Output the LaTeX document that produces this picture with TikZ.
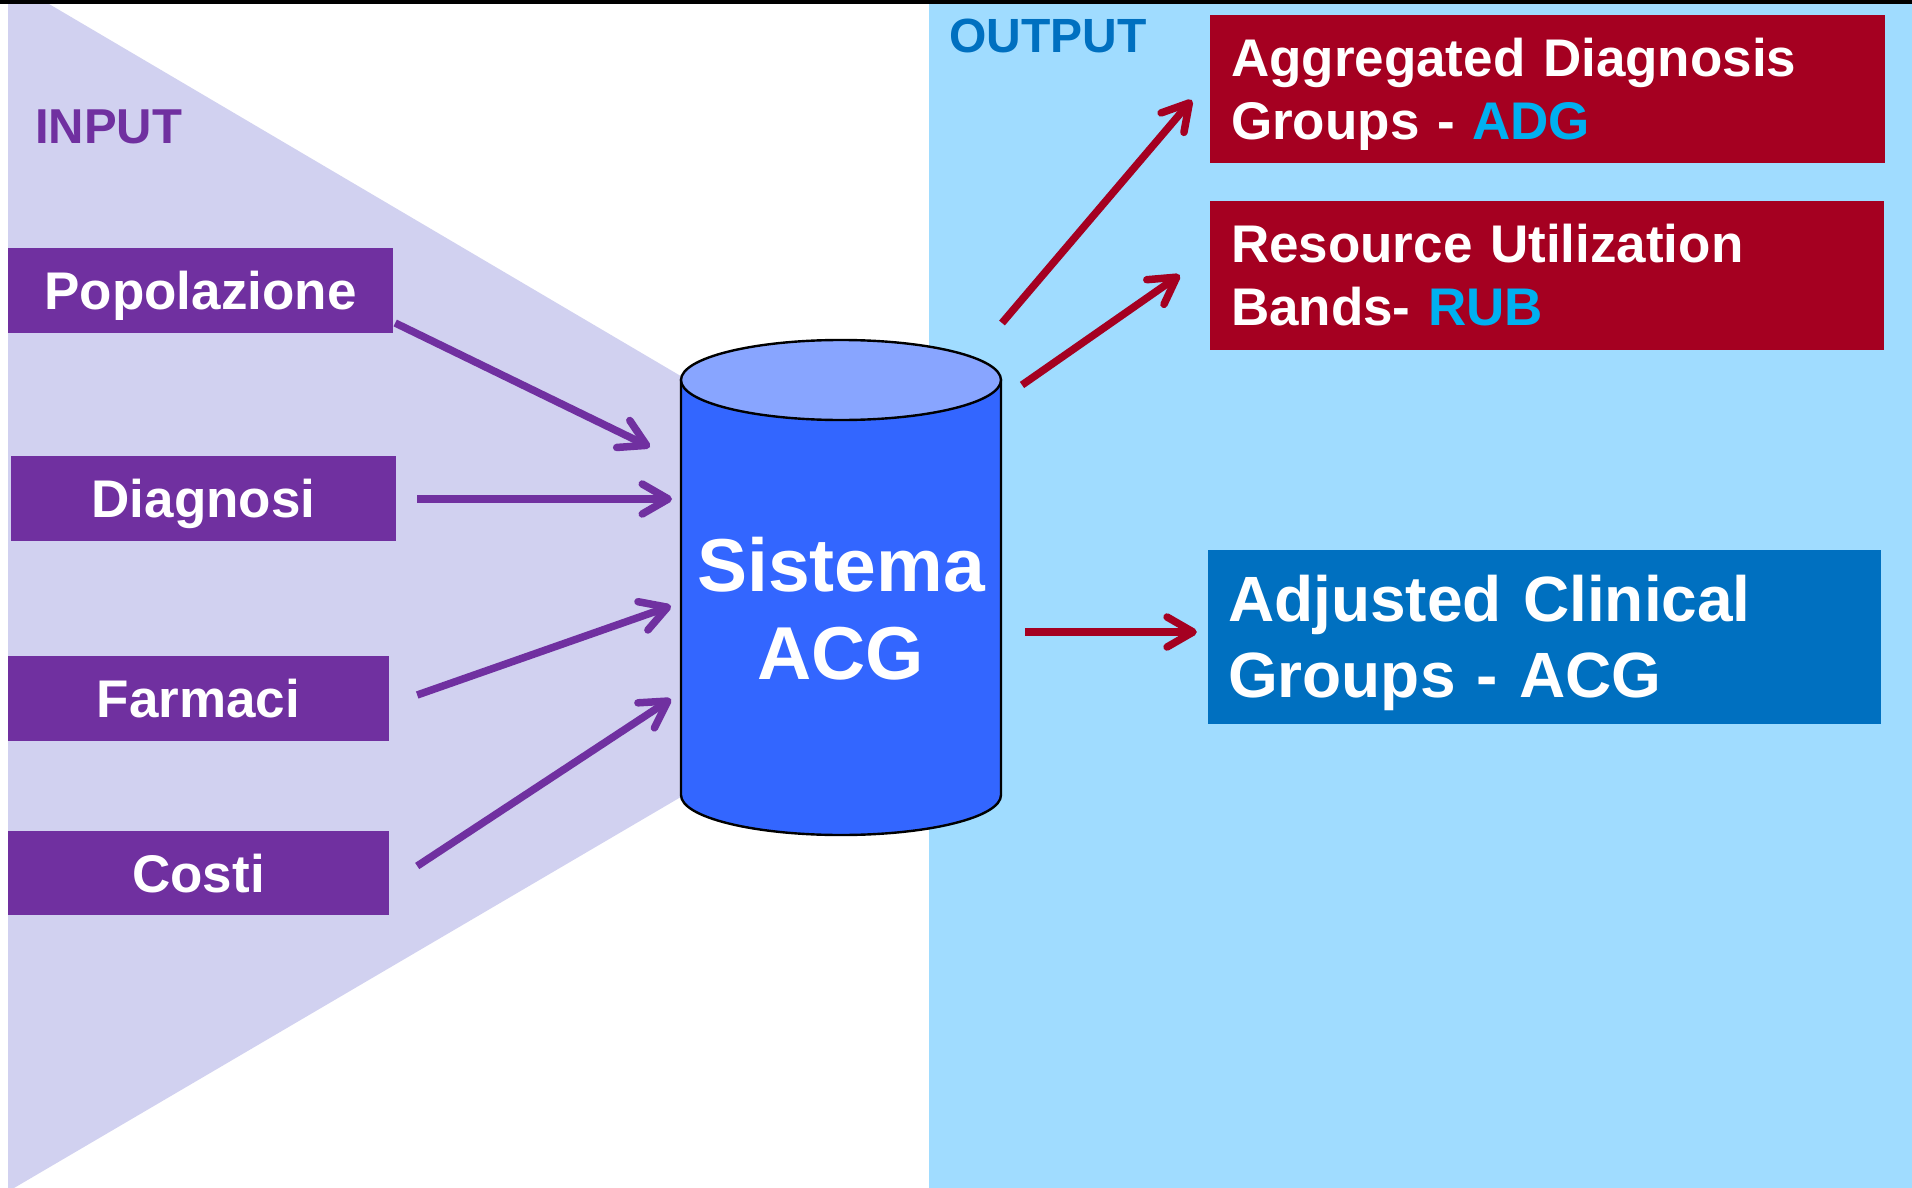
\documentclass[tikz,border=0pt]{standalone}
\usepackage{fontspec}
\setmainfont{Liberation Sans}
\usetikzlibrary{arrows.meta}

\definecolor{inpurple}{HTML}{7030A0}
\definecolor{lavender}{HTML}{D1D1F0}
\definecolor{skyblue}{HTML}{A0DCFF}
\definecolor{outred}{HTML}{A50021}
\definecolor{outblue}{HTML}{0070C0}
\definecolor{acgcyan}{HTML}{00B0F0}
\definecolor{cylbody}{HTML}{3366FF}
\definecolor{cyltop}{HTML}{88A5FF}

\begin{document}
\begin{tikzpicture}[x=1pt,y=-1pt,
  inbox/.style={fill=inpurple, text=white, inner sep=0pt, minimum height=85pt,
    font=\fontsize{53}{63}\selectfont\bfseries, text height=38pt, text depth=0pt},
  outbox/.style={text=white, inner xsep=21pt, inner ysep=0pt, align=left,
    font=\fontsize{53}{63}\selectfont\bfseries},
  inarr/.style={draw=inpurple, line width=7.5pt, -{Straight Barb[length=26pt,width=30pt,round]}},
  outarr/.style={draw=outred, line width=7.5pt, -{Straight Barb[length=26pt,width=30pt,round]}}]
  \useasboundingbox (0,0) rectangle (1912,1188);

  % Background
  \fill[white] (0,0) rectangle (1912,1188);
  \fill[lavender] (8,4) -- (49,4) -- (1039,587) -- (14,1188) -- (8,1188) -- cycle;
  \fill[skyblue] (929,4) rectangle (1912,1188);
  \fill[black] (0,0) rectangle (1912,4);

  % Titles
  \node[anchor=base west, inner sep=0pt, text=inpurple,
    font=\fontsize{49}{52}\selectfont\bfseries] (intitle) at (35,143) {INPUT};
  \node[anchor=base west, inner sep=0pt, text=outblue,
    font=\fontsize{48}{50}\selectfont\bfseries] (outtitle) at (949,53) {OUTPUT};

  % Input boxes
  \node[inbox, minimum width=385pt] (pop) at (200.5,290.5) {Popolazione};
  \node[inbox, minimum width=385pt] (dia) at (203.5,498.5) {Diagnosi};
  \node[inbox, minimum width=381pt] (far) at (198.5,698.5) {Farmaci};
  \node[inbox, minimum width=381pt, minimum height=84pt] (cos) at (198.5,873) {Costi};

  % Cylinder
  \filldraw[fill=cylbody, draw=black, line width=2.4pt]
    (681,380) -- (681,795) arc[start angle=180, end angle=360, x radius=160pt, y radius=40pt]
    -- (1001,380) -- cycle;
  \filldraw[fill=cyltop, draw=black, line width=2.4pt] (841,380) ellipse[x radius=160pt, y radius=40pt];
  \node[text=white, align=center, inner sep=0pt,
    font=\fontsize{75}{88}\selectfont\bfseries] (sys) at (841,609) {Sistema\\ACG};

  % Output boxes
  \node[outbox, fill=outred, text width=633pt, minimum height=148pt] (adg) at (1547.5,89)
    {Aggregated Diagnosis\\\smash{Groups} - \textcolor{acgcyan}{ADG}};
  \node[outbox, fill=outred, text width=632pt, minimum height=149pt] (rub) at (1547,275.5)
    {Resource Utilization\\Bands- \textcolor{acgcyan}{RUB}};
  \node[outbox, fill=outblue, inner xsep=20pt, text width=633pt, minimum height=174pt,
    font=\fontsize{64}{76}\selectfont\bfseries] (acg) at (1544.5,637)
    {Adjusted Clinical\\\smash{Groups} - ACG};

  % Arrow ends at the cylinder
  \coordinate (popin) at (650,447);
  \coordinate (diain) at (672,499);
  \coordinate (farin) at (671,606);
  \coordinate (cosin) at (671,699);
  \coordinate (adgout) at (1002,323);
  \coordinate (rubout) at (1022,385);
  \coordinate (acgout) at (1025,632);

  % Input arrows
  \draw[inarr] ([shift={(2,32.5)}]pop.east) -- (popin);
  \draw[inarr] ([shift={(21,0.5)}]dia.east) -- (diain);
  \draw[inarr] ([shift={(28,-3.5)}]far.east) -- (farin);
  \draw[inarr] ([shift={(28,-7)}]cos.east) -- (cosin);

  % Output arrows
  \draw[outarr] (adgout) -- ([shift={(-18,11)}]adg.west);
  \draw[outarr] (rubout) -- ([shift={(-30,-0.5)}]rub.west);
  \draw[outarr] (acgout) -- ([shift={(-11,-5)}]acg.west);
\end{tikzpicture}
\end{document}
